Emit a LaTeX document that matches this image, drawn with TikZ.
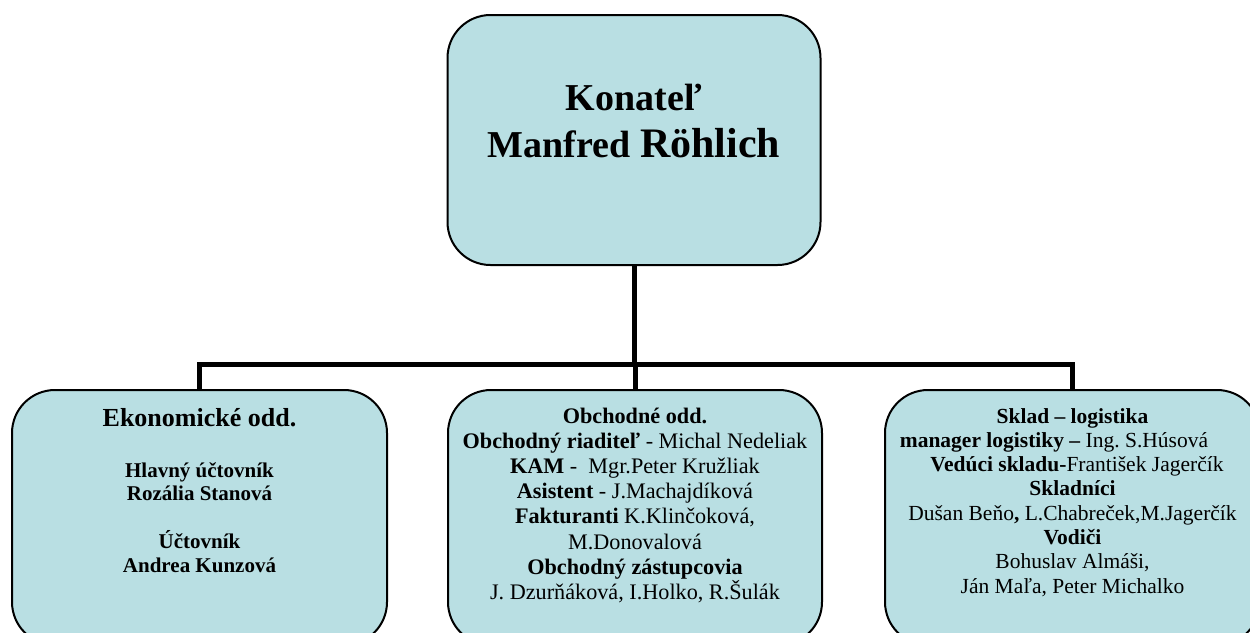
\documentclass[tikz,border=0pt]{standalone}
\usepackage{fontspec}
\setmainfont{Liberation Serif}
\frenchspacing
\definecolor{boxfill}{RGB}{185,223,227}
\tikzset{
  box/.style={draw=black, line width=2pt, fill=boxfill, rounded corners=43pt, inner sep=0pt},
  conn/.style={line width=5pt, line join=miter},
  ln/.style={anchor=base, inner sep=0pt},
  fbig/.style={font=\fontsize{38}{46}\selectfont\bfseries},
  fhead/.style={font=\fontsize{26}{30}\selectfont\bfseries},
  fleft/.style={font=\fontsize{21}{24}\selectfont\bfseries},
  fmid/.style={font=\fontsize{22.2}{25}\selectfont},
  fright/.style={font=\fontsize{21.5}{24}\selectfont},
}
\begin{document}
\begin{tikzpicture}[x=1pt,y=-1pt]
\clip (0,0) rectangle (1250,632);
\fill[white] (0,0) rectangle (1250,632);
% boxes
\node[box, minimum width=373pt, minimum height=250pt] (top) at (634,140) {};
\node[box, minimum width=375pt, minimum height=255pt] (left) at (199.5,517.5) {};
\node[box, minimum width=374pt, minimum height=255pt] (mid) at (635,517.5) {};
\node[box, minimum width=375pt, minimum height=255pt] (right) at (1072.5,517.5) {};
% connectors
\coordinate (bus) at (635,364);
\draw[conn] (top.south) -- (top.south |- bus);
\draw[conn] (left.north) |- (bus) -| (right.north);
\draw[conn] (bus) -- (mid.north);
% top text
\node[ln, fbig] (t1) at (634,110) {Konateľ};
\node[ln, fbig] (t2) at (634,157) {Manfred {\fontsize{42}{46}\selectfont Röhlich}};
% left text
\node[ln, fhead] (l1) at (199.5,426) {Ekonomické odd.};
\node[ln, fleft] (l2) at (199.5,477) {Hlavný účtovník};
\node[ln, fleft] (l3) at (199.5,500) {Rozália Stanová};
\node[ln, fleft] (l4) at (199.5,548) {Účtovník};
\node[ln, fleft] (l5) at (199.5,572) {Andrea Kunzová};
% middle text
\node[ln, fmid] (m1) at (635,423) {\textbf{Obchodné odd.}};
\node[ln, fmid] (m2) at (635,448) {\textbf{Obchodný riaditeľ} - Michal Nedeliak};
\node[ln, fmid] (m3) at (635,473) {\textbf{KAM} -\ \ Mgr.Peter Kružliak};
\node[ln, fmid] (m4) at (635,498) {\textbf{Asistent} - J.Machajdíková};
\node[ln, fmid] (m5) at (635,523) {\textbf{Fakturanti} K.Klinčoková,};
\node[ln, fmid] (m6) at (635,549) {M.Donovalová};
\node[ln, fmid] (m7) at (635,574) {\textbf{Obchodný zástupcovia}};
\node[ln, fmid] (m8) at (635,599) {J. Dzurňáková, I.Holko, R.Šulák};
% right text
\node[ln, fright] (r1) at (1072.5,423) {\textbf{Sklad – logistika}};
\node[ln, fright] (r2) at (1054,447.3) {\textbf{manager logistiky –} Ing. S.Húsová};
\node[ln, fright] (r3) at (1077,471.6) {\textbf{Vedúci skladu-}František Jagerčík};
\node[ln, fright] (r4) at (1072.5,495.9) {\textbf{Skladníci}};
\node[ln, fright] (r5) at (1072.5,520.2) {Dušan Beňo\textbf{,} L.Chabreček,M.Jagerčík};
\node[ln, fright] (r6) at (1072.5,544.5) {\textbf{Vodiči}};
\node[ln, fright] (r7) at (1072.5,568.8) {Bohuslav Almáši,};
\node[ln, fright] (r8) at (1072.5,593) {Ján Maľa, Peter Michalko};
\end{tikzpicture}
\end{document}
